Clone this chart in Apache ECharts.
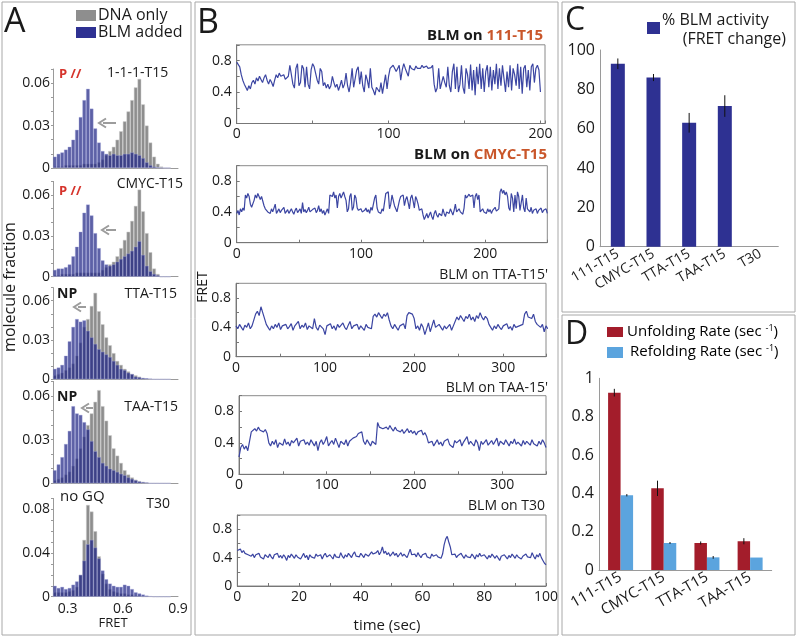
<!DOCTYPE html>
<html><head><meta charset="utf-8">
<script src="https://cdn.jsdelivr.net/npm/echarts@6/dist/echarts.min.js"></script>
<style>html,body{margin:0;padding:0;background:#fff}#c{width:796px;height:637px}</style>
</head><body><div id="c"></div>
<script>
const FONT = '"Open Sans", sans-serif';

// ---------- Panel A : FRET histograms ----------
const fretBins = [0.23,0.25,0.27,0.29,0.31,0.33,0.35,0.37,0.39,0.41,0.43,0.45,0.47,0.49,0.51,0.53,0.55,0.57,0.59,0.61,0.63,0.65,0.67,0.69,0.71,0.73,0.75,0.77,0.79,0.81,0.83,0.85];
const hist111Gray = [0.001,0.001,0.001,0.002,0.002,0.002,0.002,0.002,0.003,0.003,0.003,0.003,0.004,0.006,0.009,0.012,0.015,0.020,0.026,0.033,0.040,0.048,0.057,0.063,0.045,0.030,0.018,0.008,0.003,0.001,0,0];
const hist111Blue = [0.008,0.010,0.011,0.013,0.015,0.020,0.027,0.036,0.048,0.056,0.042,0.028,0.018,0.012,0.010,0.009,0.010,0.009,0.009,0.010,0.010,0.011,0.010,0.009,0.007,0.004,0.002,0.001,0.0005,0,0,0];
const histCmycGray = [0.001,0.001,0.002,0.002,0.002,0.002,0.003,0.003,0.003,0.003,0.003,0.003,0.003,0.005,0.007,0.009,0.011,0.015,0.021,0.027,0.033,0.041,0.052,0.064,0.048,0.032,0.018,0.006,0.002,0,0,0];
const histCmycBlue = [0.005,0.006,0.006,0.007,0.009,0.015,0.022,0.033,0.047,0.053,0.045,0.032,0.021,0.012,0.009,0.008,0.009,0.011,0.013,0.015,0.017,0.019,0.022,0.026,0.016,0.008,0.004,0.002,0.001,0,0,0];
const histTtaGray = [0.003,0.004,0.005,0.007,0.009,0.012,0.018,0.028,0.040,0.046,0.056,0.066,0.052,0.042,0.032,0.026,0.020,0.014,0.011,0.008,0.006,0.004,0.003,0.002,0.001,0.0005,0,0,0,0,0,0];
const histTtaBlue = [0.008,0.009,0.011,0.018,0.029,0.040,0.046,0.044,0.045,0.037,0.032,0.027,0.023,0.021,0.019,0.017,0.014,0.011,0.008,0.007,0.005,0.004,0.002,0.0015,0.001,0.0008,0.0005,0,0,0,0,0];
const histTaaGray = [0.002,0.003,0.004,0.006,0.008,0.012,0.017,0.024,0.032,0.040,0.048,0.056,0.064,0.053,0.043,0.033,0.024,0.019,0.014,0.009,0.006,0.004,0.0025,0.0015,0.001,0.0005,0,0,0,0,0,0];
const histTaaBlue = [0.009,0.013,0.018,0.027,0.036,0.053,0.048,0.047,0.042,0.037,0.029,0.022,0.018,0.014,0.012,0.010,0.009,0.0078,0.0065,0.0055,0.004,0.003,0.002,0.0012,0.0008,0.0005,0,0,0,0,0,0];
const histT30Gray = [0.004,0.004,0.004,0.004,0.005,0.006,0.009,0.020,0.052,0.084,0.078,0.060,0.037,0.021,0.012,0.007,0.005,0.004,0.003,0.003,0.002,0.002,0.001,0.001,0,0,0,0,0,0,0,0];
const histT30Blue = [0.010,0.008,0.009,0.007,0.008,0.011,0.014,0.020,0.033,0.048,0.052,0.045,0.035,0.024,0.016,0.012,0.010,0.009,0.009,0.011,0.010,0.007,0.004,0.003,0.002,0.001,0.0005,0,0,0,0,0];
const histYLabelsA = [0, 0.03, 0.06];
const histYLabelsT30 = [0, 0.04, 0.08];
const fretTickLabels = [0.3, 0.6, 0.9];

// ---------- Panel B : FRET time traces ----------
const dt111 = 1, dtCmyc = 1, dtTta = 2, dtTaa = 2, dtT30 = 0.5;
const trace111 = [0.78,0.76,0.72,0.62,0.55,0.50,0.46,0.42,0.48,0.44,
0.52,0.55,0.50,0.58,0.54,0.60,0.56,0.52,0.58,0.62,
0.55,0.50,0.56,0.52,0.47,0.55,0.62,0.58,0.64,0.60,
0.58,0.62,0.56,0.55,0.60,0.74,0.72,0.50,0.45,0.70,
0.76,0.48,0.52,0.74,0.70,0.46,0.72,0.50,0.44,0.68,
0.76,0.72,0.74,0.55,0.50,0.70,0.66,0.48,0.52,0.45,
0.50,0.44,0.48,0.60,0.52,0.46,0.50,0.42,0.48,0.55,
0.45,0.50,0.64,0.48,0.40,0.52,0.70,0.46,0.44,0.68,
0.72,0.50,0.66,0.48,0.40,0.62,0.55,0.45,0.70,0.46,
0.42,0.36,0.46,0.44,0.40,0.52,0.38,0.50,0.62,0.44,
0.60,0.70,0.68,0.74,0.72,0.66,0.70,0.74,0.55,0.68,
0.76,0.70,0.72,0.60,0.74,0.70,0.72,0.68,0.73,0.70,
0.72,0.70,0.74,0.71,0.69,0.73,0.70,0.72,0.71,0.74,
0.50,0.40,0.45,0.70,0.44,0.42,0.60,0.52,0.46,0.72,
0.48,0.40,0.66,0.76,0.44,0.72,0.40,0.50,0.74,0.46,
0.38,0.70,0.62,0.44,0.75,0.42,0.68,0.36,0.72,0.50,
0.76,0.44,0.70,0.40,0.66,0.74,0.46,0.72,0.42,0.68,
0.50,0.76,0.44,0.70,0.48,0.74,0.72,0.40,0.66,0.46,
0.74,0.42,0.70,0.62,0.48,0.76,0.44,0.72,0.38,0.70,
0.74,0.46,0.68,0.42,0.72,0.76,0.52,0.70,0.74,0.68,0.40];
const traceCmyc = [0.38,0.42,0.36,0.44,0.40,0.45,0.42,0.62,0.58,0.64,
0.60,0.50,0.46,0.44,0.55,0.62,0.58,0.64,0.60,0.56,
0.60,0.58,0.48,0.44,0.46,0.40,0.42,0.38,0.44,0.40,
0.42,0.50,0.38,0.41,0.44,0.39,0.42,0.40,0.46,0.38,
0.40,0.43,0.38,0.41,0.44,0.40,0.37,0.42,0.45,0.39,
0.41,0.44,0.38,0.52,0.40,0.43,0.39,0.42,0.46,0.40,
0.38,0.43,0.41,0.45,0.39,0.42,0.48,0.40,0.44,0.38,
0.42,0.36,0.40,0.44,0.38,0.62,0.64,0.60,0.66,0.58,
0.62,0.45,0.60,0.64,0.58,0.62,0.66,0.60,0.55,0.40,
0.44,0.60,0.64,0.42,0.46,0.62,0.58,0.45,0.42,0.40,
0.44,0.40,0.38,0.42,0.45,0.40,0.43,0.38,0.46,0.42,
0.40,0.58,0.62,0.45,0.40,0.42,0.38,0.44,0.41,0.40,
0.64,0.62,0.66,0.44,0.50,0.62,0.60,0.48,0.44,0.40,
0.42,0.55,0.60,0.58,0.62,0.48,0.56,0.60,0.52,0.44,
0.58,0.62,0.54,0.45,0.60,0.56,0.50,0.42,0.40,0.44,
0.36,0.30,0.34,0.38,0.32,0.36,0.40,0.34,0.30,0.38,
0.42,0.36,0.33,0.38,0.40,0.35,0.44,0.38,0.34,0.40,
0.42,0.38,0.44,0.40,0.36,0.42,0.50,0.40,0.38,0.44,
0.40,0.42,0.37,0.45,0.62,0.58,0.60,0.63,0.60,0.58,
0.62,0.45,0.60,0.64,0.56,0.62,0.40,0.38,0.44,0.40,
0.42,0.38,0.44,0.40,0.43,0.38,0.42,0.40,0.46,0.41,
0.40,0.44,0.66,0.70,0.64,0.68,0.62,0.66,0.60,0.45,
0.42,0.64,0.58,0.40,0.62,0.44,0.66,0.60,0.42,0.40,
0.62,0.45,0.40,0.58,0.44,0.42,0.40,0.46,0.38,0.42,
0.40,0.44,0.38,0.42,0.40,0.45,0.39,0.42,0.40,0.44,0.38];
const traceTta = [0.42,0.38,0.44,0.40,0.36,0.43,0.40,0.46,0.38,0.42,
0.40,0.58,0.62,0.56,0.68,0.60,0.58,0.44,0.40,0.36,
0.42,0.38,0.44,0.40,0.46,0.37,0.42,0.40,0.44,0.38,
0.41,0.45,0.36,0.42,0.40,0.48,0.38,0.43,0.40,0.46,
0.37,0.42,0.44,0.38,0.52,0.40,0.36,0.43,0.41,0.38,
0.30,0.42,0.40,0.45,0.38,0.42,0.36,0.44,0.40,0.38,
0.46,0.40,0.37,0.43,0.48,0.38,0.42,0.40,0.44,0.37,
0.42,0.40,0.36,0.44,0.40,0.42,0.38,0.55,0.58,0.54,
0.60,0.56,0.52,0.58,0.55,0.60,0.50,0.42,0.38,0.44,
0.40,0.36,0.42,0.40,0.45,0.38,0.56,0.60,0.62,0.58,
0.52,0.38,0.42,0.36,0.45,0.40,0.30,0.38,0.46,0.34,
0.42,0.50,0.40,0.38,0.44,0.40,0.36,0.42,0.38,0.40,
0.44,0.36,0.42,0.40,0.54,0.50,0.56,0.52,0.48,0.55,
0.52,0.58,0.50,0.54,0.48,0.56,0.52,0.60,0.54,0.50,
0.55,0.52,0.44,0.40,0.36,0.42,0.38,0.44,0.40,0.37,
0.42,0.40,0.45,0.38,0.41,0.36,0.44,0.40,0.38,0.42,
0.40,0.44,0.58,0.62,0.54,0.56,0.52,0.58,0.48,0.44,
0.46,0.40,0.44,0.34,0.42,0.38];
const traceTaa = [0.22,0.34,0.38,0.32,0.36,0.30,0.42,0.54,0.56,0.58,
0.55,0.60,0.56,0.58,0.54,0.57,0.52,0.40,0.36,0.42,
0.38,0.44,0.34,0.40,0.42,0.37,0.45,0.38,0.41,0.36,
0.43,0.40,0.38,0.46,0.36,0.42,0.40,0.44,0.38,0.41,
0.37,0.44,0.40,0.36,0.42,0.30,0.40,0.44,0.38,0.42,
0.48,0.36,0.40,0.43,0.38,0.46,0.40,0.34,0.42,0.40,
0.38,0.44,0.36,0.42,0.40,0.46,0.44,0.48,0.52,0.50,
0.54,0.42,0.38,0.44,0.40,0.36,0.42,0.40,0.38,0.66,
0.60,0.62,0.58,0.56,0.60,0.57,0.62,0.58,0.55,0.60,
0.56,0.58,0.54,0.57,0.52,0.55,0.58,0.53,0.56,0.52,
0.55,0.50,0.54,0.52,0.56,0.50,0.53,0.48,0.40,0.38,
0.42,0.36,0.40,0.44,0.38,0.41,0.36,0.42,0.40,0.45,
0.38,0.40,0.34,0.43,0.40,0.38,0.44,0.36,0.41,0.40,
0.48,0.38,0.42,0.40,0.36,0.44,0.40,0.30,0.42,0.38,
0.41,0.44,0.37,0.40,0.43,0.38,0.40,0.46,0.36,0.42,
0.40,0.38,0.44,0.40,0.36,0.42,0.39,0.45,0.38,0.41,
0.40,0.36,0.43,0.38,0.42,0.40,0.37,0.44,0.39,0.41,
0.36,0.42,0.38,0.44,0.40,0.34];
const traceT30 = [0.50,0.48,0.52,0.47,0.50,0.46,0.48,0.44,0.46,0.42,
0.45,0.40,0.44,0.42,0.46,0.41,0.43,0.38,0.44,0.42,
0.40,0.45,0.41,0.38,0.44,0.42,0.46,0.40,0.43,0.39,
0.44,0.41,0.36,0.43,0.40,0.45,0.42,0.39,0.44,0.41,
0.43,0.38,0.42,0.46,0.40,0.43,0.37,0.44,0.41,0.42,
0.39,0.45,0.42,0.40,0.44,0.38,0.43,0.46,0.41,0.40,
0.44,0.42,0.38,0.45,0.41,0.43,0.40,0.47,0.42,0.39,
0.44,0.41,0.46,0.43,0.40,0.45,0.48,0.42,0.44,0.41,
0.46,0.43,0.40,0.45,0.47,0.42,0.44,0.48,0.45,0.43,
0.47,0.50,0.44,0.48,0.55,0.46,0.49,0.44,0.47,0.42,
0.45,0.48,0.43,0.46,0.41,0.44,0.47,0.42,0.45,0.43,
0.40,0.46,0.52,0.44,0.42,0.45,0.41,0.47,0.43,0.40,
0.44,0.42,0.46,0.41,0.43,0.39,0.45,0.42,0.40,0.44,
0.41,0.43,0.39,0.45,0.58,0.66,0.70,0.62,0.55,0.44,
0.42,0.45,0.40,0.43,0.41,0.46,0.42,0.39,0.44,0.41,
0.43,0.40,0.45,0.42,0.38,0.44,0.41,0.46,0.42,0.40,
0.44,0.41,0.38,0.43,0.40,0.45,0.42,0.39,0.43,0.41,
0.36,0.42,0.40,0.44,0.41,0.38,0.43,0.40,0.45,0.42,
0.39,0.44,0.41,0.43,0.38,0.42,0.40,0.45,0.41,0.43,
0.40,0.47,0.42,0.38,0.44,0.41,0.46,0.40,0.36,0.32,
0.30];

// ---------- Panel C ----------
const cCats = ['111-T15','CMYC-T15','TTA-T15','TAA-T15','T30'];
const cActivity = [93, 86, 63, 71.5, 0];
const cActivityErr = [2.7, 1.8, 5, 5.5, 0];

// ---------- Panel D ----------
const dCats = ['111-T15','CMYC-T15','TTA-T15','TAA-T15'];
const dUnfold = [0.925, 0.426, 0.141, 0.150];
const dUnfoldErr = [0.02, 0.04, 0.008, 0.016];
const dRefold = [0.39, 0.141, 0.066, 0.065];
const dRefoldErr = [0.006, 0.005, 0.007, 0];

// ================== build ==================
const chart = echarts.init(document.getElementById('c'));
const grid = [], xAxis = [], yAxis = [], series = [];
const AXC = '#9a9a9a', TXT = '#1a1a1a';
const close = (v, arr) => arr.some(a => Math.abs(v - a) < 1e-6);
const fmtNum = v => String(Math.round(v * 1000) / 1000);

// Panel A
const histPanels = [
  {top: 69, h: 99, max: 0.07, labels: histYLabelsA, g: hist111Gray, b: hist111Blue},
  {top: 181.4, h: 95.3, max: 0.07, labels: histYLabelsA, g: histCmycGray, b: histCmycBlue},
  {top: 287.6, h: 91.7, max: 0.07, labels: histYLabelsA, g: histTtaGray, b: histTtaBlue},
  {top: 381.4, h: 101.9, max: 0.07, labels: histYLabelsA, g: histTaaGray, b: histTaaBlue},
  {top: 498.4, h: 98.3, max: 0.09, labels: histYLabelsT30, g: histT30Gray, b: histT30Blue, xl: true}
];
histPanels.forEach((p) => {
  const gi = grid.length;
  grid.push({left: 53, width: 125, top: p.top, height: p.h});
  xAxis.push({type: 'value', gridIndex: gi, min: 0.22, max: 0.9, interval: 0.02,
    axisLine: {lineStyle: {color: AXC}}, axisTick: {show: false}, splitLine: {show: false},
    axisLabel: {show: !!p.xl, fontFamily: FONT, fontSize: 14, color: TXT, margin: 5,
      formatter: v => close(v, fretTickLabels) ? fmtNum(v) : ''}});
  yAxis.push({type: 'value', gridIndex: gi, min: 0, max: p.max, interval: 0.01,
    axisLine: {show: true, lineStyle: {color: AXC}}, axisTick: {show: true, length: 2, lineStyle: {color: AXC}},
    splitLine: {show: false},
    axisLabel: {fontFamily: FONT, fontSize: 14, color: TXT, margin: 3,
      formatter: v => close(v, p.labels) ? fmtNum(v) : ''}});
  series.push({type: 'bar', xAxisIndex: gi, yAxisIndex: gi, barWidth: 3.68, barGap: '-100%',
    data: fretBins.map((x, i) => [x, p.g[i]]),
    itemStyle: {color: '#8e8e8e', borderColor: '#cfcfcf', borderWidth: 0.5}, silent: true});
  series.push({type: 'bar', xAxisIndex: gi, yAxisIndex: gi, barWidth: 3.68, barGap: '-100%',
    data: fretBins.map((x, i) => [x, p.b[i]]),
    itemStyle: {color: 'rgba(31,36,131,0.72)', borderColor: 'rgba(160,164,220,0.7)', borderWidth: 0.5}, silent: true});
});

// Panel B
const tracePanels = [
  {top: 44.8, h: 78.7, left: 236.7, w: 308.3, max: 203, tick: 50, lab: 100, d: trace111, dt: dt111},
  {top: 165.7, h: 77, left: 236.7, w: 310.6, max: 250, tick: 50, lab: 100, d: traceCmyc, dt: dtCmyc},
  {top: 283.3, h: 73.4, left: 236, w: 310, max: 348, tick: 50, lab: 100, d: traceTta, dt: dtTta},
  {top: 395.7, h: 78.6, left: 239, w: 307, max: 350, tick: 50, lab: 100, d: traceTaa, dt: dtTaa},
  {top: 515, h: 71, left: 237.3, w: 308.7, max: 100, tick: 10, lab: 20, d: traceT30, dt: dtT30}
];
tracePanels.forEach((p) => {
  const gi = grid.length;
  grid.push({left: p.left, width: p.w, top: p.top, height: p.h, show: true, borderColor: '#8a8a8a', borderWidth: 1});
  xAxis.push({type: 'value', gridIndex: gi, min: 0, max: p.max, interval: p.tick,
    axisLine: {lineStyle: {color: '#777'}}, axisTick: {inside: true, length: 3, lineStyle: {color: '#777'}},
    splitLine: {show: false},
    axisLabel: {fontFamily: FONT, fontSize: 14, color: TXT, margin: 4,
      formatter: v => (Math.abs(v % p.lab) < 1e-6 && Math.abs(v - Math.round(v)) < 1e-6) ? String(v) : ''}});
  yAxis.push({type: 'value', gridIndex: gi, min: 0, max: 1, interval: 0.2,
    axisLine: {show: true, lineStyle: {color: '#777'}}, axisTick: {show: true, inside: true, length: 3, lineStyle: {color: '#777'}},
    splitLine: {show: false},
    axisLabel: {fontFamily: FONT, fontSize: 14, color: TXT, margin: 5,
      formatter: v => close(v, [0, 0.4, 0.8]) ? fmtNum(v) : ''}});
  series.push({type: 'line', xAxisIndex: gi, yAxisIndex: gi, showSymbol: false, symbol: 'none',
    data: p.d.map((v, i) => [i * p.dt, v]),
    lineStyle: {color: '#3b45a2', width: 1.2}, silent: true, animation: false});
});

// Panel C
const gC = grid.length;
grid.push({left: 600, width: 178.3, top: 50, height: 196.7});
xAxis.push({type: 'category', gridIndex: gC, data: cCats,
  axisLine: {lineStyle: {color: AXC}}, axisTick: {length: 4, lineStyle: {color: AXC}},
  axisLabel: {fontFamily: FONT, fontSize: 14, color: TXT, rotate: 30, margin: 6, interval: 0}});
yAxis.push({type: 'value', gridIndex: gC, min: 0, max: 100, interval: 20,
  axisLine: {show: true, lineStyle: {color: AXC}}, axisTick: {show: false}, splitLine: {show: false},
  axisLabel: {fontFamily: FONT, fontSize: 16, color: TXT, margin: 5}});
series.push({type: 'bar', xAxisIndex: gC, yAxisIndex: gC, data: cActivity, barWidth: 14,
  itemStyle: {color: '#2e3192'}, silent: true});

function errRender(offset) {
  return function (params, api) {
    const x = api.value(0), lo = api.value(1), hi = api.value(2);
    if (hi - lo <= 0) return null;
    const p1 = api.coord([x, lo]), p2 = api.coord([x, hi]);
    return {type: 'line', shape: {x1: p1[0] + offset, y1: p1[1], x2: p2[0] + offset, y2: p2[1]},
      style: {stroke: '#111', lineWidth: 1}};
  };
}
series.push({type: 'custom', xAxisIndex: gC, yAxisIndex: gC, renderItem: errRender(0), z: 5, silent: true,
  data: cActivity.map((v, i) => [i, v - cActivityErr[i], v + cActivityErr[i]])});

// Panel D
const gD = grid.length;
grid.push({left: 599, width: 172.7, top: 378.3, height: 191.7});
xAxis.push({type: 'category', gridIndex: gD, data: dCats,
  axisLine: {lineStyle: {color: AXC}}, axisTick: {length: 4, lineStyle: {color: AXC}},
  axisLabel: {fontFamily: FONT, fontSize: 15, color: TXT, rotate: 30, margin: 6, interval: 0}});
yAxis.push({type: 'value', gridIndex: gD, min: 0, max: 1, interval: 0.2,
  axisLine: {show: true, lineStyle: {color: AXC}}, axisTick: {show: false}, splitLine: {show: false},
  axisLabel: {fontFamily: FONT, fontSize: 16, color: TXT, margin: 5, formatter: v => fmtNum(v)}});
const BW = 12.5;
series.push({type: 'bar', xAxisIndex: gD, yAxisIndex: gD, data: dUnfold, barWidth: BW, barGap: '0%',
  itemStyle: {color: '#a31d2b'}, silent: true});
series.push({type: 'bar', xAxisIndex: gD, yAxisIndex: gD, data: dRefold, barWidth: BW, barGap: '0%',
  itemStyle: {color: '#5ba4de'}, silent: true});
series.push({type: 'custom', xAxisIndex: gD, yAxisIndex: gD, renderItem: errRender(-BW / 2), z: 5, silent: true,
  data: dUnfold.map((v, i) => [i, v - dUnfoldErr[i], v + dUnfoldErr[i]])});
series.push({type: 'custom', xAxisIndex: gD, yAxisIndex: gD, renderItem: errRender(BW / 2), z: 5, silent: true,
  data: dRefold.map((v, i) => [i, v - dRefoldErr[i], v + dRefoldErr[i]])});

// ---------- annotations ----------
const T = (text, x, y, size, opt) => Object.assign({type: 'text', x: x, y: y, silent: true,
  style: Object.assign({text: text, font: (opt && opt.weight ? opt.weight + ' ' : '') + size + 'px ' + FONT,
    fill: (opt && opt.fill) || TXT, align: (opt && opt.align) || 'left', verticalAlign: 'middle'}, (opt && opt.style) || {})},
  (opt && opt.el) || {});
const R = (x, y, w, h, fill) => ({type: 'rect', silent: true, shape: {x: x, y: y, width: w, height: h}, style: {fill: fill}});
const box = (x, y, w, h) => ({type: 'rect', silent: true, z: -1, shape: {x: x, y: y, width: w, height: h}, style: {fill: 'none', stroke: '#a8a8a8', lineWidth: 1}});
const arrow = (x1, x2, y) => ({type: 'group', silent: true, children: [
  {type: 'line', shape: {x1: x1, y1: y, x2: x2 + 4, y2: y}, style: {stroke: '#9c9c9c', lineWidth: 2}},
  {type: 'polyline', shape: {points: [[x2 + 7, y - 4.5], [x2, y], [x2 + 7, y + 4.5]]}, style: {stroke: '#9c9c9c', lineWidth: 2, fill: 'none'}}
]});
const RED = '#d6342c', ORG = '#c9562a';
const titleRich = {a: {fontFamily: FONT, fontSize: 15, fontWeight: 'bold', fill: TXT, color: TXT},
                   b: {fontFamily: FONT, fontSize: 15, fontWeight: 'bold', fill: ORG, color: ORG}};
const supRich = {a: {fontFamily: FONT, fontSize: 15, color: TXT}, s: {fontFamily: FONT, fontSize: 9, color: TXT, verticalAlign: 'top', padding: [0, 0, 8, 0]}};

const graphic = [
  box(2, 2, 189, 633), box(195, 2, 363, 633), box(562, 2, 233, 310), box(562, 315, 233, 320),
  T('A', 4, 22, 34), T('B', 197, 23, 34), T('C', 565, 21, 32), T('D', 565, 335, 32),
  R(76, 10, 20, 11, '#8e8e8e'), R(76, 27, 20, 11, '#2e3192'),
  T('DNA only', 98, 15, 16), T('BLM added', 98, 32, 16),
  T('P //', 59, 74, 13, {weight: 'bold', fill: RED}), T('1-1-1-T15', 107, 73, 14),
  T('P //', 59, 191, 13, {weight: 'bold', fill: RED}), T('CMYC-T15', 183, 184, 14, {align: 'right'}),
  T('NP', 57, 294, 14, {weight: 'bold'}), T('TTA-T15', 177, 294, 14, {align: 'right'}),
  T('NP', 57, 397, 14, {weight: 'bold'}), T('TAA-T15', 178, 407, 14, {align: 'right'}),
  T('no GQ', 60, 497, 15), T('T30', 170, 504, 14, {align: 'right'}),
  arrow(116, 99, 123), arrow(116, 102, 230), arrow(86, 74, 307), arrow(93, 82, 408),
  T('FRET', 113, 623, 13, {align: 'center'}),
  T('molecule fraction', 10, 287, 16, {align: 'center', el: {rotation: Math.PI / 2}}),
  T('FRET', 203, 287, 14, {align: 'center', el: {rotation: Math.PI / 2}}),
  T('time (sec)', 387, 626, 15, {align: 'center'}),
  {type: 'text', x: 543, y: 36, silent: true, style: {text: '{a|BLM on }{b|111-T15}', rich: titleRich, align: 'right', verticalAlign: 'middle'}},
  {type: 'text', x: 547, y: 155, silent: true, style: {text: '{a|BLM on }{b|CMYC-T15}', rich: titleRich, align: 'right', verticalAlign: 'middle'}},
  T("BLM on TTA-T15'", 548, 275, 14, {align: 'right'}),
  T("BLM on TAA-15'", 548, 388, 14, {align: 'right'}),
  T('BLM on T30', 545, 506, 14, {align: 'right'}),
  R(647, 22, 13, 12, '#2e3192'),
  T('% BLM activity', 662, 20, 16), T('(FRET change)', 786, 39, 16, {align: 'right'}),
  R(607, 327, 16, 10, '#a31d2b'), R(607, 347, 16, 11, '#5ba4de'),
  {type: 'text', x: 627, y: 332, silent: true, style: {text: '{a|Unfolding Rate (sec }{s|-1}{a|)}', rich: supRich, verticalAlign: 'middle'}},
  {type: 'text', x: 630, y: 352, silent: true, style: {text: '{a|Refolding Rate (sec }{s|-1}{a|)}', rich: supRich, verticalAlign: 'middle'}}
];

chart.setOption({animation: false, grid: grid, xAxis: xAxis, yAxis: yAxis, series: series, graphic: graphic});
</script></body></html>
